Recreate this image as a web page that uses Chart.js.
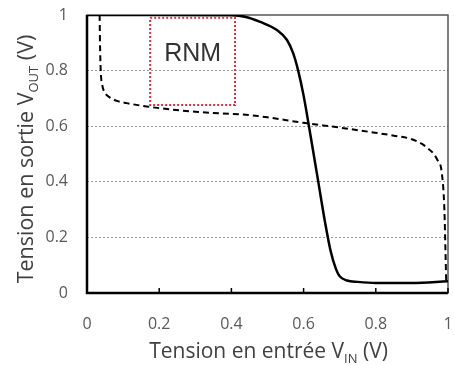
<!DOCTYPE html>
<html>
<head>
<meta charset="utf-8">
<script src="https://cdn.jsdelivr.net/npm/chart.js@4"></script>
<style>
  html, body { margin: 0; padding: 0; background: #fff; }
  #wrap { width: 454px; height: 365px; }
</style>
</head>
<body>
<div id="wrap"><canvas id="vtc" width="454" height="365"></canvas></div>
<script>
// transfer curves
var solidX = [0, 0.2, 0.4, 0.44, 0.48, 0.526, 0.554, 0.571, 0.585, 0.6, 0.62, 0.64, 0.66, 0.675, 0.69, 0.7, 0.72, 0.75, 0.8, 0.9, 1];
var solidY = [1, 1, 0.999, 0.993, 0.975, 0.946, 0.91, 0.863, 0.8, 0.71, 0.56, 0.405, 0.25, 0.15, 0.085, 0.06, 0.045, 0.04, 0.036, 0.036, 0.042];
var dashX = [0.035, 0.036, 0.038, 0.042, 0.05, 0.064, 0.085, 0.11, 0.17, 0.3, 0.45, 0.5, 0.6, 0.7, 0.78, 0.85, 0.9, 0.94, 0.97, 0.983, 0.99, 0.993, 0.995];
var dashY = [1, 0.9, 0.8, 0.75, 0.72, 0.703, 0.69, 0.683, 0.67, 0.652, 0.64, 0.632, 0.612, 0.595, 0.58, 0.566, 0.553, 0.525, 0.48, 0.43, 0.3, 0.15, 0.04];
// RNM square
var rnmX = [0.175, 0.41, 0.41, 0.175, 0.175];
var rnmY = [0.99, 0.99, 0.676, 0.676, 0.99];
var rnmText = 'RNM';
var xTickLabels = ['0', '0.2', '0.4', '0.6', '0.8', '1'];
var yTickLabels = ['0', '0.2', '0.4', '0.6', '0.8', '1'];

function pts(xs, ys) {
    return xs.map(function(x, i) { return {x: x, y: ys[i]}; });
}

// text with a subscript part
function drawSub(ctx, main, sub, tail, size) {
    ctx.font = size + 'px "Open Sans"';
    var w1 = ctx.measureText(main).width;
    var w3 = ctx.measureText(tail).width;
    ctx.font = Math.round(size * 0.62) + 'px "Open Sans"';
    var w2 = ctx.measureText(sub).width;
    var total = w1 + w2 + w3;
    var x = -total / 2;
    ctx.textAlign = 'left';
    ctx.textBaseline = 'alphabetic';
    ctx.font = size + 'px "Open Sans"';
    ctx.fillText(main, x, 0);
    ctx.font = Math.round(size * 0.62) + 'px "Open Sans"';
    ctx.fillText(sub, x + w1, size * 0.22);
    ctx.font = size + 'px "Open Sans"';
    ctx.fillText(tail, x + w1 + w2, 0);
}

var decor = {
    id: 'decor',
    beforeDatasetsDraw: function(chart) {
        var ctx = chart.ctx, a = chart.chartArea;
        var xs = chart.scales.x;
        ctx.save();
        ctx.strokeStyle = '#555';
        ctx.lineWidth = 1.5;
        ctx.strokeRect(a.left, a.top, a.right - a.left, a.bottom - a.top);
        ctx.strokeStyle = '#000';
        ctx.lineWidth = 2.5;
        ctx.beginPath();
        ctx.moveTo(a.left, a.top);
        ctx.lineTo(a.left, a.bottom);
        ctx.lineTo(a.right, a.bottom);
        ctx.stroke();
        // little inner ticks on the x axis
        ctx.lineWidth = 1.5;
        xs.ticks.forEach(function(t) {
            var px = xs.getPixelForValue(t.value);
            ctx.beginPath();
            ctx.moveTo(px, a.bottom);
            ctx.lineTo(px, a.bottom - 5);
            ctx.stroke();
        });
        ctx.restore();
    },
    afterDraw: function(chart) {
        var ctx = chart.ctx, a = chart.chartArea;
        var xs = chart.scales.x, ys = chart.scales.y;
        ctx.save();
        ctx.fillStyle = '#404040';
        ctx.translate((a.left + a.right) / 2 + 1, 358);
        drawSub(ctx, 'Tension en entrée V', 'IN', ' (V)', 21);
        ctx.restore();

        ctx.save();
        ctx.fillStyle = '#404040';
        ctx.translate(33, (a.top + a.bottom) / 2 + 5);
        ctx.rotate(-Math.PI / 2);
        drawSub(ctx, 'Tension en sortie V', 'OUT', ' (V)', 21.5);
        ctx.restore();

        ctx.save();
        ctx.fillStyle = '#333';
        ctx.font = '25px "Liberation Sans"';
        ctx.textAlign = 'center';
        ctx.textBaseline = 'middle';
        var cx = xs.getPixelForValue((Math.min.apply(null, rnmX) + Math.max.apply(null, rnmX)) / 2);
        ctx.fillText(rnmText, cx, ys.getPixelForValue(0.86));
        ctx.restore();
    }
};

var tickFont = { family: '"Open Sans"', size: 16 };

new Chart(document.getElementById('vtc').getContext('2d'), {
    type: 'scatter',
    data: {
        datasets: [{
            label: 'RNM',
            data: pts(rnmX, rnmY),
            showLine: true,
            borderColor: '#e0303c',
            borderWidth: 2,
            borderDash: [2, 2],
            pointRadius: 0,
            tension: 0
        }, {
            label: 'inverseur 2',
            data: pts(dashX, dashY),
            showLine: true,
            borderColor: '#000',
            borderWidth: 2,
            borderDash: [6, 4],
            pointRadius: 0,
            cubicInterpolationMode: 'monotone'
        }, {
            label: 'inverseur 1',
            data: pts(solidX, solidY),
            showLine: true,
            borderColor: '#000',
            borderWidth: 2.5,
            pointRadius: 0,
            cubicInterpolationMode: 'monotone'
        }]
    },
    options: {
        responsive: false,
        animation: false,
        layout: { padding: { left: 0, right: 6, top: 15, bottom: 0 } },
        plugins: {
            legend: { display: false },
            tooltip: { enabled: false }
        },
        scales: {
            x: {
                type: 'linear',
                min: 0,
                max: 1,
                afterFit: function(s) {
                    s.height = 72;
                    s.paddingLeft = 0; s.paddingRight = 0;
                },
                grid: { display: false, drawTicks: false },
                border: { display: false },
                ticks: {
                    stepSize: 0.2,
                    padding: 22,
                    color: '#595959',
                    font: tickFont,
                    maxRotation: 0,
                    callback: function(v, i) { return xTickLabels[i]; }
                }
            },
            y: {
                type: 'linear',
                min: 0,
                max: 1,
                afterFit: function(s) {
                    s.width = 87;
                    s.paddingTop = 0; s.paddingBottom = 0;
                },
                grid: {
                    drawTicks: false,
                    lineWidth: 1,
                    color: function(c) {
                        var v = c.tick ? c.tick.value : 0;
                        return (v > 0.01 && v < 0.99) ? '#9a9a9a' : 'rgba(0,0,0,0)';
                    }
                },
                border: { display: false, dash: [2, 2] },
                ticks: {
                    stepSize: 0.2,
                    padding: 19,
                    color: '#595959',
                    font: tickFont,
                    callback: function(v, i) { return yTickLabels[i]; }
                }
            }
        }
    },
    plugins: [decor]
});
</script>
</body>
</html>
